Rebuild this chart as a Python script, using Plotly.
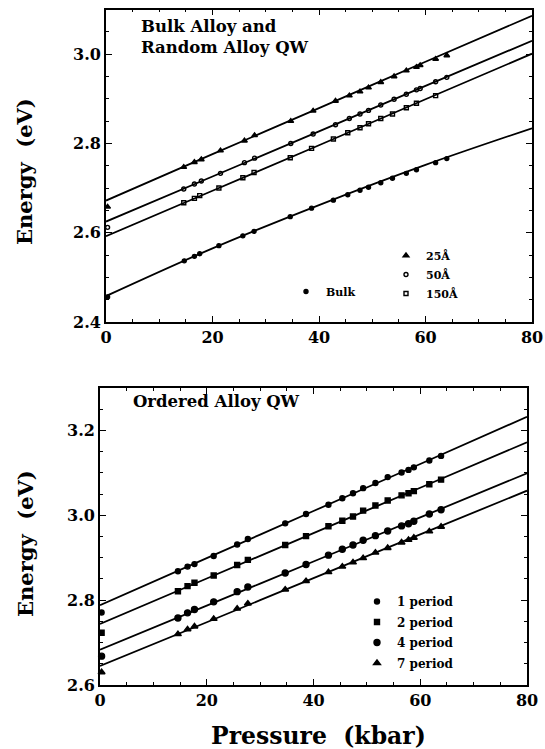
import plotly.graph_objects as go

W, H = 545, 749
FONT = "DejaVu Serif"

# ---------------- upper panel: bulk alloy and random-alloy QWs ----------------
p_25 = [0.3, 14.6, 16.6, 17.9, 21.5, 26.0, 27.9, 34.7, 38.9, 43.1, 45.7, 47.7,
        49.3, 51.6, 54.1, 56.4, 58.3, 59.0, 61.9, 64.0]
e_25 = [2.658, 2.747, 2.758, 2.764, 2.784, 2.806, 2.818, 2.850, 2.873, 2.895, 2.907,
        2.916, 2.925, 2.937, 2.950, 2.963, 2.971, 2.975, 2.989, 2.997]

p_50 = [0.3, 14.6, 16.6, 17.9, 21.5, 26.0, 27.9, 34.7, 38.9, 43.1, 45.7, 47.7,
        49.3, 51.6, 54.1, 56.4, 58.3, 59.0, 61.9, 64.0]
e_50 = [2.612, 2.698, 2.709, 2.716, 2.733, 2.757, 2.767, 2.800, 2.821, 2.842, 2.856,
        2.866, 2.874, 2.886, 2.899, 2.910, 2.920, 2.923, 2.938, 2.948]

p_150 = [14.6, 16.6, 17.6, 21.2, 25.7, 27.8, 34.6, 38.6, 42.7, 45.4, 47.7, 49.3,
         51.6, 53.8, 56.4, 58.3, 61.9]
e_150 = [2.667, 2.677, 2.683, 2.700, 2.723, 2.735, 2.768, 2.789, 2.810, 2.824, 2.835,
         2.844, 2.856, 2.866, 2.880, 2.890, 2.907]

p_bulk = [0.3, 14.7, 16.6, 17.6, 21.2, 25.7, 27.8, 34.6, 38.6, 42.7, 45.4, 47.7,
          49.3, 51.6, 53.8, 56.4, 58.3, 61.9, 64.0]
e_bulk = [2.456, 2.537, 2.547, 2.553, 2.571, 2.593, 2.603, 2.636, 2.655, 2.673, 2.685,
          2.695, 2.702, 2.712, 2.722, 2.733, 2.741, 2.757, 2.766]

# fitted curves, sampled at these pressures
fit_p = [0, 20, 40, 60, 80]
fit_25 = [2.672, 2.776, 2.879, 2.983, 3.086]
fit_50 = [2.625, 2.726, 2.827, 2.929, 3.030]
fit_150 = [2.592, 2.694, 2.796, 2.899, 3.001]
fit_bulk = [2.458, 2.565, 2.662, 2.752, 2.834]

# ---------------- lower panel: ordered-alloy QWs ----------------
p_ord = [0.3, 14.6, 16.4, 17.7, 21.3, 25.7, 27.7, 34.7, 38.6, 42.8, 45.4, 47.4,
         49.3, 51.6, 53.9, 56.5, 57.8, 58.8, 61.7, 63.9]
e_1p = [2.771, 2.868, 2.879, 2.885, 2.904, 2.931, 2.944, 2.981, 3.003, 3.025, 3.040,
        3.052, 3.064, 3.076, 3.090, 3.101, 3.107, 3.113, 3.129, 3.140]
e_2p = [2.723, 2.821, 2.833, 2.841, 2.858, 2.883, 2.895, 2.930, 2.951, 2.974, 2.987,
        2.997, 3.011, 3.023, 3.035, 3.047, 3.052, 3.057, 3.073, 3.084]
e_4p = [2.668, 2.758, 2.770, 2.778, 2.796, 2.820, 2.831, 2.864, 2.884, 2.906, 2.920,
        2.930, 2.941, 2.952, 2.963, 2.975, 2.980, 2.986, 3.003, 3.013]
e_7p = [2.630, 2.720, 2.731, 2.738, 2.756, 2.780, 2.792, 2.825, 2.845, 2.866, 2.879,
        2.889, 2.899, 2.912, 2.923, 2.936, 2.942, 2.947, 2.962, 2.973]

fit_1p = [2.788, 2.899, 3.010, 3.121, 3.232]
fit_2p = [2.744, 2.851, 2.958, 3.065, 3.172]
fit_4p = [2.683, 2.787, 2.891, 2.995, 3.099]
fit_7p = [2.645, 2.748, 2.852, 2.955, 3.058]

x_ticks = [0, 20, 40, 60, 80]

fig = go.Figure()


def add_fit(px, ey, xa, ya):
    fig.add_trace(go.Scatter(x=px, y=ey, mode="lines", xaxis=xa, yaxis=ya,
                             line=dict(color="black", width=1.8, shape="spline"),
                             showlegend=False, hoverinfo="skip"))


def add_pts(px, ey, xa, ya, name, symbol, size, legend, group):
    fig.add_trace(go.Scatter(x=px, y=ey, mode="markers", xaxis=xa, yaxis=ya, name=name,
                             legend=legend, legendgroup=group, cliponaxis=False,
                             marker=dict(symbol=symbol, size=size, color="black",
                                         line=dict(color="black", width=1.4))))


# upper panel
for f in (fit_25, fit_50, fit_150, fit_bulk):
    add_fit(fit_p, f, "x", "y")
add_pts(p_25, e_25, "x", "y", "25Å", "triangle-up", 5, "legend", "a")
add_pts(p_50, e_50, "x", "y", "50Å", "circle-open", 4, "legend", "b")
add_pts(p_150, e_150, "x", "y", "150Å", "square-open", 4, "legend", "c")
add_pts(p_bulk, e_bulk, "x", "y", "Bulk", "circle", 4, "legend2", "d")

# lower panel
for f in (fit_1p, fit_2p, fit_4p, fit_7p):
    add_fit(fit_p, f, "x2", "y2")
add_pts(p_ord, e_1p, "x2", "y2", "1 period", "circle", 5, "legend3", "e")
add_pts(p_ord, e_2p, "x2", "y2", "2 period", "square", 5, "legend3", "f")
add_pts(p_ord, e_4p, "x2", "y2", "4 period", "circle", 6, "legend3", "g")
add_pts(p_ord, e_7p, "x2", "y2", "7 period", "triangle-up", 6, "legend3", "h")

tick_font = dict(family=FONT, size=16, color="black", weight="bold")
axis_style = dict(showline=True, linecolor="black", linewidth=1.7, mirror="ticks",
                  ticks="inside", ticklen=6, tickwidth=1.4, tickcolor="black",
                  showgrid=False, zeroline=False, tickfont=tick_font,
                  ticklabeloverflow="allow")
x_style = dict(axis_style, range=[0, 80], tickvals=x_ticks,
               minor=dict(dtick=5, tick0=0, ticks="inside", ticklen=3,
                          tickwidth=1, tickcolor="black", showgrid=False))
y_minor = dict(dtick=0.05, ticks="inside", ticklen=3, tickwidth=1,
               tickcolor="black", showgrid=False)


def px_x(v):
    return v / W


def px_y(v):
    return 1 - v / H


fig.update_layout(
    width=W, height=H,
    margin=dict(l=0, r=0, t=0, b=0, autoexpand=False),
    paper_bgcolor="white", plot_bgcolor="white",
    xaxis=dict(x_style, domain=[px_x(106), px_x(532)], anchor="y"),
    yaxis=dict(axis_style, domain=[px_y(322), px_y(9.5)], anchor="x",
               range=[2.4, 3.1], tick0=2.4, dtick=0.2, tickformat=".1f",
               minor=dict(y_minor, tick0=2.4)),
    xaxis2=dict(x_style, domain=[px_x(100), px_x(527)], anchor="y2"),
    yaxis2=dict(axis_style, domain=[px_y(685), px_y(388)], anchor="x2",
                range=[2.6, 3.3], tick0=2.6, dtick=0.2, tickformat=".1f",
                minor=dict(y_minor, tick0=2.6)),
    legend=dict(x=px_x(386), y=px_y(241), xanchor="left", yanchor="top",
                bgcolor="rgba(0,0,0,0)", borderwidth=0, itemwidth=30,
                tracegroupgap=0,
                font=dict(family=FONT, size=11, color="black", weight="bold")),
    legend2=dict(x=px_x(286), y=px_y(277), xanchor="left", yanchor="top",
                 bgcolor="rgba(0,0,0,0)", borderwidth=0, itemwidth=30,
                 font=dict(family=FONT, size=11, color="black", weight="bold")),
    legend3=dict(x=px_x(357), y=px_y(587), xanchor="left", yanchor="top",
                 bgcolor="rgba(0,0,0,0)", borderwidth=0, itemwidth=30,
                 tracegroupgap=1.5,
                 font=dict(family=FONT, size=12, color="black", weight="bold")),
)

title_font = dict(family=FONT, size=21, color="black", weight="bold")
note_font = dict(family=FONT, size=16.5, color="black", weight="bold")
annotations = [
    dict(text="Energy \u00a0(eV)", x=px_x(25), y=px_y(172), textangle=-90,
         font=title_font),
    dict(text="Energy \u00a0(eV)", x=px_x(25), y=px_y(544), textangle=-90,
         font=title_font),
    dict(text="Pressure \u00a0(kbar)", x=px_x(318), y=px_y(736),
         font=dict(title_font, size=23.5)),
    dict(text="Bulk Alloy and<br>Random Alloy QW", x=px_x(139), y=px_y(37),
         xanchor="left", align="left", font=note_font),
    dict(text="Ordered Alloy QW", x=px_x(131), y=px_y(401), xanchor="left",
         font=note_font),
]
for a in annotations:
    a.update(xref="paper", yref="paper", showarrow=False, yanchor="middle")
    a.setdefault("xanchor", "center")
fig.update_layout(annotations=annotations)

fig.write_html("out.html")
